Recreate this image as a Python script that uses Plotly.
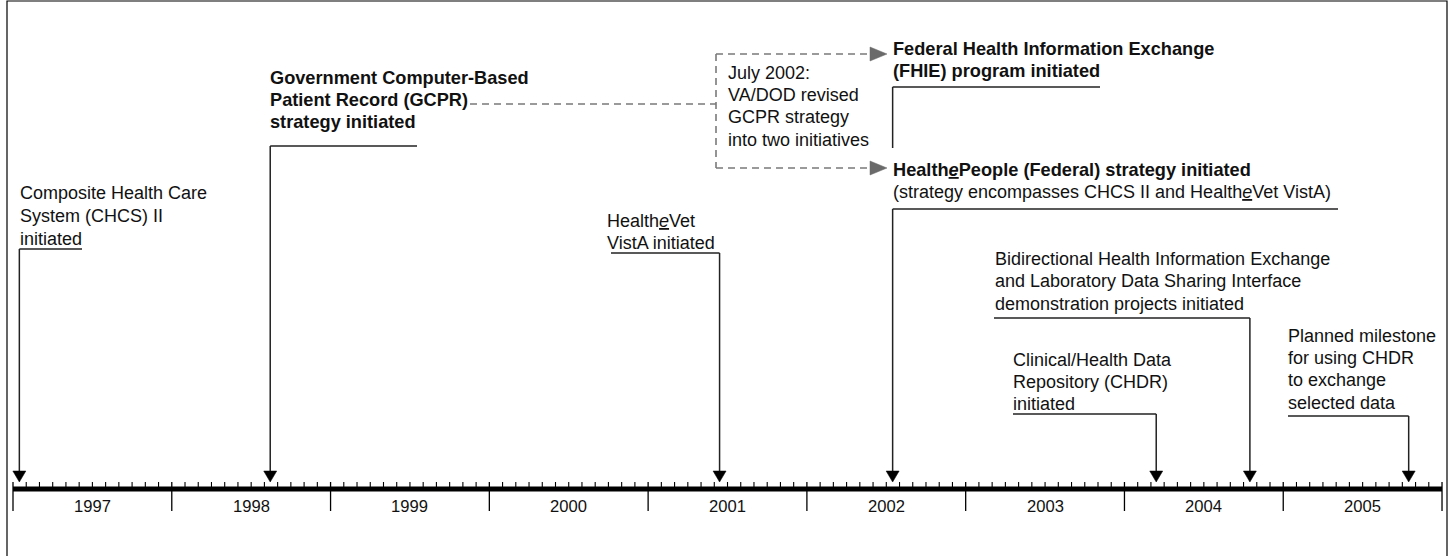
import plotly.graph_objects as go

# ---------------- data ----------------
years = [1997, 1998, 1999, 2000, 2001, 2002, 2003, 2004, 2005]
year_labels = ["1997", "1998", "1999", "2000", "2001", "2002", "2003", "2004", "2005"]

event_keys = ["chcs", "gcpr", "vista", "hep", "chdr", "bidir", "plan"]
event_dates = [1997.04, 1998.62, 2001.45, 2002.54, 2004.20, 2004.79, 2005.79]

chcs_text = ["Composite Health Care", "System (CHCS) II", "initiated"]
gcpr_text = ["<b>Government Computer-Based</b>", "<b>Patient Record (GCPR)</b>", "<b>strategy initiated</b>"]
fhie_text = ["<b>Federal Health Information Exchange</b>", "<b>(FHIE) program initiated</b>"]
hep_text = ["<b>Health<u><i>e</i></u>People (Federal) strategy initiated</b>",
            "(strategy encompasses CHCS II and Health<u><i>e</i></u>Vet VistA)"]
vista_text = ["Health<u><i>e</i></u>Vet", "VistA initiated"]
bidir_text = ["Bidirectional Health Information Exchange", "and Laboratory Data Sharing Interface",
              "demonstration projects initiated"]
chdr_text = ["Clinical/Health Data", "Repository (CHDR)", "initiated"]
plan_text = ["Planned milestone", "for using CHDR", "to exchange", "selected data"]
july_text = ["July 2002:", "VA/DOD revised", "GCPR strategy", "into two initiatives"]

# ---------------- layout geometry (pixels) ----------------
W, H = 1454, 556
X0_PX = 13.0        # pixel where the 1997 box starts
YEAR_PX = 158.78    # pixels per year
AXIS_Y = 489
TICK_TOP = 482
MAJOR_BOTTOM = 511
ARROW_TOP = 471
LABEL_Y = 506
ARROW_HALF_W = 6.5
FONT = "Liberation Sans, Arial, Helvetica, sans-serif"
FS = 18
FS_BOLD = 18.2
TEXT_C = "#111111"
LINE_C = "#222222"
DASH_C = "#7a7a7a"
DASH = "7px,5px"


def px(p):
    """convert horizontal pixel to year units"""
    return 1997 + (p - X0_PX) / YEAR_PX


# callout layout: text left px, baselines, underline y, underline far-end px
callouts = {
    "chcs":  dict(text=chcs_text, left=20, base=[199, 222, 245], uy=249, far=82),
    "gcpr":  dict(text=gcpr_text, left=270, base=[84.5, 106, 128], uy=146, far=417),
    "vista": dict(text=vista_text, left=607, base=[227, 249], uy=253, far=611),
    "hep":   dict(text=hep_text, left=893, base=[176, 198], uy=209, far=1338),
    "chdr":  dict(text=chdr_text, left=1013, base=[366, 388, 410], uy=414, far=1013),
    "bidir": dict(text=bidir_text, left=995, base=[265, 287, 310], uy=318, far=994),
    "plan":  dict(text=plan_text, left=1288, base=[342, 364, 386.5, 409], uy=416, far=1288),
}
fhie = dict(text=fhie_text, left=893, base=[55, 77], uy=87, far=1100, vend=148)
july = dict(text=july_text, left=728, base=[79, 101, 123.5, 146])
GCPR_DASH = dict(x0=470, x1=716, y=104)
BRACKET = dict(x=716, ytop=54, ybot=168, xarrow=870, xtip=887, ah=7)

fig = go.Figure()
shapes = []
annotations = []


def add_text(lines, left, bases):
    for t, b in zip(lines, bases):
        size = FS_BOLD if t.startswith("<b>") else FS
        annotations.append(dict(
            x=px(left), y=b - 0.345 * size, xref="x", yref="y", text=t,
            showarrow=False, xanchor="left", yanchor="middle",
            borderpad=0, borderwidth=0,
            font=dict(family=FONT, size=size, color=TEXT_C)))


def line(x0, y0, x1, y1, color=LINE_C, width=1.5, dash=None):
    shapes.append(dict(type="line", xref="x", yref="y", x0=x0, y0=y0, x1=x1, y1=y1,
                       line=dict(color=color, width=width, dash=dash), layer="above"))


# frame
shapes.append(dict(type="rect", xref="x", yref="y", x0=px(7), x1=px(1447), y0=1, y1=H + 5,
                   line=dict(color="#000000", width=1.2), fillcolor="rgba(0,0,0,0)"))

# timeline axis
first, last = years[0], years[-1] + 1
line(first, AXIS_Y, last, AXIS_Y, color="#000000", width=5)
for y in years + [last]:
    line(y, TICK_TOP, y, MAJOR_BOTTOM, color="#000000", width=1.3)
mx, my = [], []
for y in years:
    for m in range(1, 12):
        mx += [y + m / 12, y + m / 12, None]
        my += [TICK_TOP, AXIS_Y, None]
fig.add_trace(go.Scatter(x=mx, y=my, mode="lines", line=dict(color="#000000", width=1.1),
                         hoverinfo="skip", showlegend=False))
for y, lab in zip(years, year_labels):
    annotations.append(dict(x=y + 0.5, y=LABEL_Y, xref="x", yref="y", text=lab, showarrow=False,
                            xanchor="center", yanchor="middle",
                            font=dict(family=FONT, size=16.6, color=TEXT_C)))

# event callouts
hw = ARROW_HALF_W / YEAR_PX
for key, d in zip(event_keys, event_dates):
    c = callouts[key]
    add_text(c["text"], c["left"], c["base"])
    line(d, c["uy"], px(c["far"]), c["uy"])
    line(d, c["uy"], d, ARROW_TOP + 1)
    shapes.append(dict(type="path", xref="x", yref="y",
                       path=f"M {d - hw},{ARROW_TOP} L {d + hw},{ARROW_TOP} L {d},{TICK_TOP} Z",
                       fillcolor="#000000", line=dict(color="#000000", width=0.5)))

# FHIE callout (shares the July 2002 date)
hep_date = event_dates[event_keys.index("hep")]
add_text(fhie["text"], fhie["left"], fhie["base"])
line(hep_date, fhie["uy"], px(fhie["far"]), fhie["uy"])
line(hep_date, fhie["uy"], hep_date, fhie["vend"])

# July 2002 note and dashed connector
add_text(july["text"], july["left"], july["base"])
line(px(GCPR_DASH["x0"]), GCPR_DASH["y"], px(GCPR_DASH["x1"]), GCPR_DASH["y"],
     color=DASH_C, width=1.6, dash=DASH)
b = BRACKET
line(px(b["x"]), b["ytop"], px(b["x"]), b["ybot"], color=DASH_C, width=1.6, dash=DASH)
for yy in (b["ytop"], b["ybot"]):
    line(px(b["x"]), yy, px(b["xarrow"]), yy, color=DASH_C, width=1.6, dash=DASH)
    shapes.append(dict(type="path", xref="x", yref="y",
                       path=f"M {px(b['xarrow'])},{yy - b['ah']} L {px(b['xtip'])},{yy} "
                            f"L {px(b['xarrow'])},{yy + b['ah']} Z",
                       fillcolor="#6a6a6a", line=dict(color="#6a6a6a", width=0.5)))

fig.update_layout(
    width=W, height=H, autosize=False,
    margin=dict(l=0, r=0, t=0, b=0),
    paper_bgcolor="white", plot_bgcolor="white",
    xaxis=dict(range=[px(0), px(W)], visible=False, fixedrange=True),
    yaxis=dict(range=[H, 0], visible=False, fixedrange=True),
    shapes=shapes, annotations=annotations, showlegend=False,
)

fig.write_html("out.html", include_plotlyjs=True,
               config={"displayModeBar": False, "staticPlot": True},
               post_script="document.body.style.margin='0';document.body.style.overflow='hidden';")
